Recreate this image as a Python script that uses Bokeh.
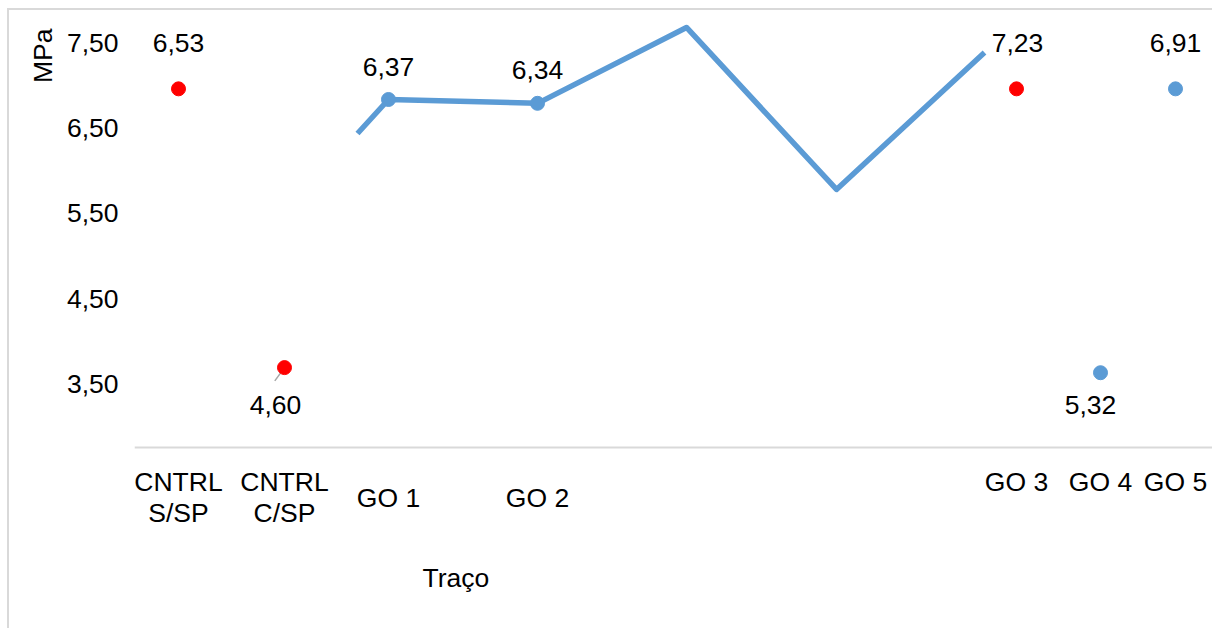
from bokeh.plotting import figure
from bokeh.models import Range1d, FixedTicker, Title, ColumnDataSource, LinearAxis
from bokeh.core.properties import value
from bokeh.embed import file_html
from bokeh.resources import INLINE

# ---- data -------------------------------------------------------------
categories = ["CNTRL S/SP", "CNTRL C/SP", "GO 1", "GO 2", "GO 3", "GO 4", "GO 5"]
tick_labels = ["CNTRL\nS/SP", "CNTRL\nC/SP", "GO 1", "GO 2", "GO 3", "GO 4", "GO 5"]
point_values = [6.96, 3.69, 6.835, 6.79, 6.96, 3.63, 6.96]
point_labels = ["6,53", "4,60", "6,37", "6,34", "7,23", "5,32", "6,91"]
point_series = ["S1", "S1", "S2", "S2", "S1", "S2", "S2"]
trend_values = [6.436, 6.835, 6.79, 7.68, 5.78, 7.386]
y_ticks = [3.5, 4.5, 5.5, 6.5, 7.5]
y_tick_labels = ["3,50", "4,50", "5,50", "6,50", "7,50"]

# ---- layout / style (page pixels) ---------------------------------------
W, H = 1214, 630
BOX_L, BOX_T, BOX_W = 7, 8, 2          # chart-area border
OFF_X, OFF_Y = BOX_L + BOX_W, BOX_T + BOX_W
FRAME_L, FRAME_T, FRAME_B = 134, 20, 545
AXIS_ROW = 447              # row of the category axis line
PX_PER_UNIT = 85.25
TOP_TICK_PX = 42.3          # screen row of the 7,50 tick
slot_x = [178, 284, 388, 537, 1016, 1100, 1175]
trend_x = [357, 388, 537, 686, 836, 984]
label_dx = [0, -9, 0, 0, 1, -10, 0]
label_dy = [-46, 37, -32, -33, -46, 32, -46]
lowered = ["GO 1", "GO 2"]     # category names set half a line lower
series_color = {"S1": "#ff0000", "S2": "#5b9bd5"}
FONT = "Liberation Sans"
FS = "26.5px"
GRID_GRAY = "#d9d9d9"


def val_at(px):
    """value on the y scale for a given page row"""
    return y_ticks[-1] - (px - TOP_TICK_PX) / PX_PER_UNIT


y_hi = val_at(FRAME_T)
y_lo = val_at(FRAME_B)
axis_at = val_at(AXIS_ROW)

cw, ch = W - OFF_X, H - OFF_Y
p = figure(width=cw, height=ch,
           x_range=Range1d(FRAME_L, W), y_range=Range1d(y_lo, y_hi),
           output_backend="svg", toolbar_location=None,
           min_border_left=FRAME_L - OFF_X, min_border_right=0,
           min_border_top=FRAME_T - OFF_Y, min_border_bottom=H - FRAME_B,
           margin=(BOX_T, 0, 0, BOX_L),
           styles={"border-left": f"{BOX_W}px solid {GRID_GRAY}",
                   "border-top": f"{BOX_W}px solid {GRID_GRAY}"})
p.outline_line_color = None
p.background_fill_color = "white"
p.border_fill_color = "white"
p.xgrid.visible = False
p.ygrid.visible = False

# y axis: tick labels only
p.yaxis.ticker = FixedTicker(ticks=y_ticks)
p.yaxis.major_label_overrides = dict(zip(y_ticks, y_tick_labels))
p.yaxis.axis_line_color = None
p.yaxis.major_tick_line_color = None
p.yaxis.minor_tick_line_color = None
p.yaxis.major_label_standoff = 10
p.yaxis.major_label_text_font = FONT
p.yaxis.major_label_text_font_size = FS
p.yaxis.major_label_text_color = "black"


def style_xaxis(ax, standoff):
    ax.fixed_location = axis_at
    ax.major_tick_line_color = None
    ax.minor_tick_line_color = None
    ax.major_label_standoff = standoff
    ax.major_label_text_font = FONT
    ax.major_label_text_font_size = FS
    ax.major_label_text_color = "black"
    ax.major_label_text_line_height = 1.05


# x axis: category labels on the first row
upper = [i for i, c in enumerate(categories) if c not in lowered]
lower = [i for i, c in enumerate(categories) if c in lowered]
p.xaxis.ticker = FixedTicker(ticks=[slot_x[i] for i in upper])
p.xaxis.major_label_overrides = {slot_x[i]: tick_labels[i] for i in upper}
p.xaxis.axis_line_color = GRID_GRAY
p.xaxis.axis_line_width = 2
style_xaxis(p.xaxis[0], 13)

# second label row on the same axis line, set half a line lower
ax2 = LinearAxis(ticker=FixedTicker(ticks=[slot_x[i] for i in lower]),
                 major_label_overrides={slot_x[i]: tick_labels[i] for i in lower},
                 axis_line_color=None)
style_xaxis(ax2, 29)
p.add_layout(ax2, "below")

# axis titles
p.add_layout(Title(text="MPa", align="right", offset=8, standoff=12,
                   text_font=FONT, text_font_size=FS, text_font_style="normal",
                   text_color="black"), "left")
p.add_layout(Title(text="Traço", align="left", offset=288, standoff=30,
                   text_font=FONT, text_font_size=FS, text_font_style="normal",
                   text_color="black"), "below")

# trend line
p.line(trend_x, trend_values, line_color="#5b9bd5", line_width=5.5,
       line_join="round")

# leader line from the 4,60 label to its marker
i460 = point_labels.index("4,60")
p.segment(x0=[slot_x[i460] - 9.7], y0=[point_values[i460] - 13.3 / PX_PER_UNIT],
          x1=[slot_x[i460]], y1=[point_values[i460]],
          line_color="#a6a6a6", line_width=1.5)

src = ColumnDataSource(dict(
    x=slot_x, y=point_values, lbl=point_labels,
    color=[series_color[s] for s in point_series],
    dx=label_dx, dy=label_dy))

p.scatter("x", "y", source=src, size=14, fill_color="color",
          line_color="color")

p.text("x", "y", text="lbl", source=src, x_offset="dx", y_offset="dy",
       text_align="center", text_baseline="middle",
       text_font=value(FONT), text_font_size=value(FS), text_color="black")

open("out.html", "w").write(file_html(p, INLINE))
